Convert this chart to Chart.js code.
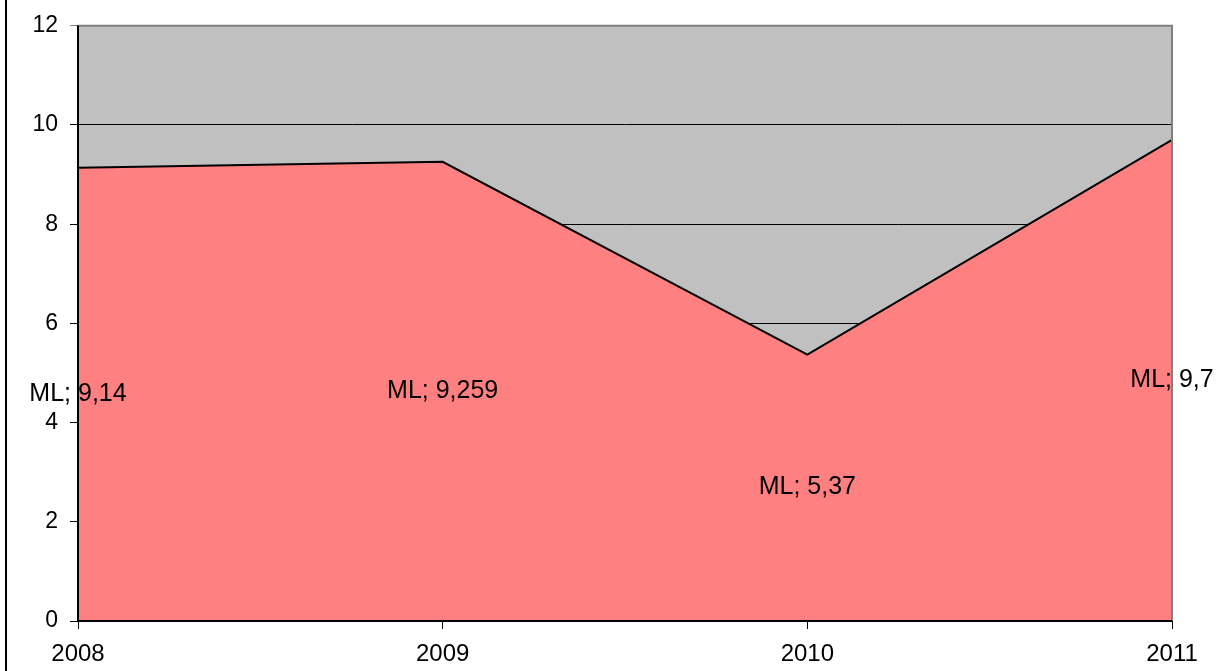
<!DOCTYPE html>
<html lang="en">
<head>
  <meta charset="UTF-8" />
  <title>ML</title>
  <style>
    html, body { margin: 0; padding: 0; background: #fff; }
    #wrap { width: 1220px; height: 671px; position: relative; }
  </style>
</head>
<body>
  <div id="wrap"><canvas id="mlChart" width="1220" height="671"></canvas></div>

  <script src="https://cdn.jsdelivr.net/npm/chart.js"></script>
  <script>
    const years = ['2008', '2009', '2010', '2011'];
    const mlValues = [9.14, 9.259, 5.37, 9.7];
    const labelText = ['ML; 9,14', 'ML; 9,259', 'ML; 5,37', 'ML; 9,7'];
    // vertical spot (in axis units) where each data label sits
    const labelAt = [4.57, 4.63, 2.7, 4.85];
    const yTicks = [0, 2, 4, 6, 8, 10, 12];

    const FAMILY = '"Liberation Sans", Arial, sans-serif';

    const excelLook = {
      id: 'excelLook',
      beforeDraw(chart) {
        const { ctx, chartArea: a } = chart;
        ctx.save();
        ctx.fillStyle = '#c0c0c0';
        ctx.fillRect(a.left, a.top, a.right - a.left, a.bottom - a.top);
        // outer frame line on the left
        ctx.fillStyle = '#000';
        ctx.fillRect(5, 0, 2, chart.height);
        ctx.restore();
      },
      afterDatasetsDraw(chart) {
        const { ctx, chartArea: a } = chart;
        const xs = chart.scales.x, ys = chart.scales.y;
        ctx.save();
        // grey top and right border of the plot
        ctx.strokeStyle = '#808080';
        ctx.lineWidth = 2;
        ctx.beginPath();
        ctx.moveTo(a.left, a.top);
        ctx.lineTo(a.right, a.top);
        ctx.lineTo(a.right, a.bottom);
        ctx.stroke();
        // black axes on top of the fill
        ctx.strokeStyle = '#000';
        ctx.beginPath();
        ctx.moveTo(a.left, a.top);
        ctx.lineTo(a.left, a.bottom);
        ctx.lineTo(a.right, a.bottom);
        ctx.stroke();
        ctx.fillStyle = '#000';
        ctx.font = '25px ' + FAMILY;
        ctx.textAlign = 'center';
        ctx.textBaseline = 'middle';
        labelText.forEach((t, i) => {
          ctx.fillText(t, xs.getPixelForValue(i), ys.getPixelForValue(labelAt[i]));
        });
        ctx.restore();
      }
    };

    new Chart(document.getElementById('mlChart'), {
      type: 'line',
      data: {
        labels: years,
        datasets: [{
          label: 'ML',
          data: mlValues,
          borderColor: '#000',
          borderWidth: 2,
          backgroundColor: '#ff8080',
          fill: 'origin',
          tension: 0,
          pointRadius: 0
        }]
      },
      options: {
        responsive: false,
        animation: false,
        layout: { padding: { left: 0, right: 48, top: 25, bottom: 0 } },
        plugins: { legend: { display: false }, tooltip: { enabled: false } },
        scales: {
          x: {
            offset: false,
            grid: { drawOnChartArea: false, color: '#000', tickLength: 8, lineWidth: 1 },
            border: { color: '#000', width: 2 },
            ticks: { color: '#000', font: { family: FAMILY, size: 24 }, padding: 11, maxRotation: 0, autoSkip: false },
            afterFit(s) { s.height = 50; }
          },
          y: {
            min: 0,
            max: 12,
            afterBuildTicks(s) { s.ticks = yTicks.map(v => ({ value: v })); },
            grid: {
              color: c => (c.tick && c.tick.value === 12 ? '#808080' : '#000'),
              lineWidth: 1,
              tickLength: 8
            },
            border: { color: '#000', width: 2 },
            ticks: { color: '#000', font: { family: FAMILY, size: 23 }, padding: 12 },
            afterFit(s) { s.width = 78; }
          }
        }
      },
      plugins: [excelLook]
    });
  </script>
</body>
</html>
